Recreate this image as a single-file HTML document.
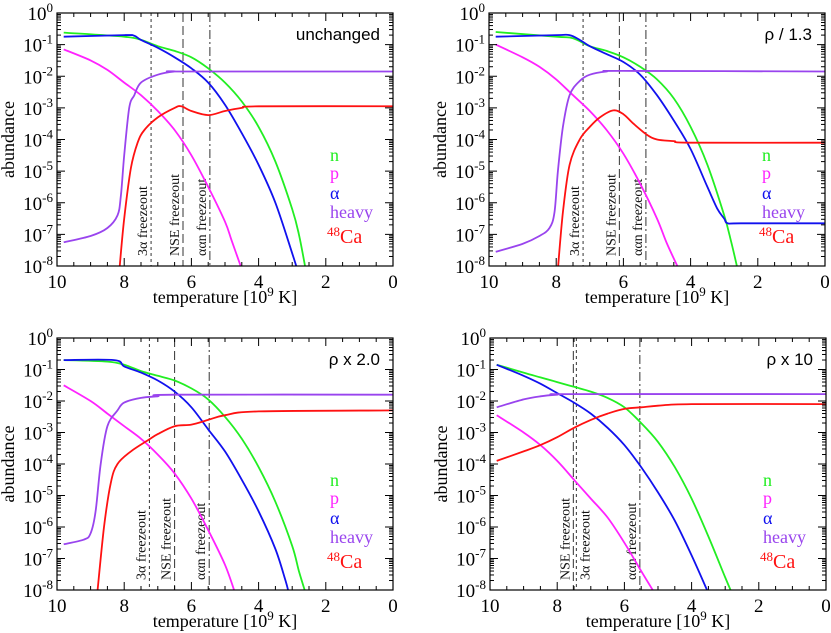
<!DOCTYPE html>
<html><head><meta charset="utf-8"><style>
body{margin:0;background:#fff}
svg{display:block;font-family:"Liberation Serif",serif}
</style></head><body>
<svg id="chart" width="831" height="633" viewBox="0 0 831 633" xmlns="http://www.w3.org/2000/svg"></svg>
<script>
const panelTitles=["unchanged","ρ / 1.3","ρ x 2.0","ρ x 10"];
const xTicks=[10,8,6,4,2,0];
const yTicks=[0,-1,-2,-3,-4,-5,-6,-7,-8];
const seriesNames=["n","p","α","heavy","48Ca"];
const seriesColors=["#22ee22","#ff22ff","#1111ee","#9944ee","#ff1111"];
// per panel: [n, p, alpha, heavy, Ca] each as [T, log10 abundance]
const tlN=[[9.8,-0.62],[8,-0.75],[7.5,-0.85],[7,-1.05],[6.5,-1.2],[6,-1.4],[5.5,-1.75],[5,-2.2],[4.5,-2.8],[4,-3.6],[3.5,-4.7],[3,-6.2],[2.8,-7],[2.6,-8.1]];
const tlP=[[9.8,-1.15],[9,-1.5],[8.5,-1.8],[8,-2.2],[7.5,-2.6],[7,-3.1],[6.5,-3.7],[6,-4.5],[5.5,-5.5],[5,-6.6],[4.8,-7.2],[4.5,-8.1]];
const tlA=[[9.8,-0.75],[8,-0.7],[7.7,-0.72],[7.5,-0.85],[7,-1.1],[6.5,-1.4],[6,-1.75],[5.5,-2.2],[5,-2.9],[4.5,-3.8],[4,-4.8],[3.5,-6],[3,-7.6],[2.85,-8.1]];
const tlH=[[9.8,-7.25],[9,-7.05],[8.5,-6.8],[8.2,-6.4],[8.1,-5.8],[8,-4.5],[7.85,-3],[7.7,-2.6],[7.5,-2.2],[7,-1.95],[6.5,-1.85],[6.2,-1.85],[0,-1.85]];
const tlC=[[8.15,-8.2],[8,-6.5],[7.8,-4.9],[7.6,-4.1],[7.4,-3.7],[7,-3.3],[6.5,-3],[6.3,-2.95],[6,-3.1],[5.5,-3.23],[5,-3.1],[4.5,-3],[4,-2.95],[0,-2.95]];
const trN=[[9.8,-0.6],[8,-0.75],[7.5,-0.8],[7,-1.05],[6.5,-1.2],[6,-1.4],[5.5,-1.7],[5,-2.1],[4.5,-2.7],[4,-3.6],[3.5,-4.8],[3,-6.4],[2.8,-7.2],[2.6,-8.1]];
const trP=[[9.8,-1.0],[9,-1.4],[8.5,-1.7],[8,-2.1],[7.5,-2.6],[7,-3.1],[6.5,-3.7],[6,-4.45],[5.5,-5.4],[5,-6.5],[4.7,-7.3],[4.35,-8.1]];
const trA=[[9.8,-0.75],[8,-0.7],[7.6,-0.7],[7.3,-0.85],[7,-1.05],[6.5,-1.3],[6,-1.55],[5.5,-1.95],[5,-2.6],[4.5,-3.4],[4,-4.3],[3.5,-5.5],[3.2,-6.2],[3,-6.5],[2.9,-6.65],[2.5,-6.65],[0,-6.65]];
const trH=[[9.8,-7.55],[9,-7.3],[8.5,-7.05],[8.2,-6.8],[8.05,-6.3],[7.95,-5],[7.8,-3.6],[7.6,-2.6],[7.3,-2.15],[7,-1.95],[6.5,-1.85],[6,-1.83],[0,-1.85]];
const trC=[[7.95,-8.1],[7.8,-6.3],[7.6,-4.8],[7.3,-4],[7,-3.6],[6.7,-3.3],[6.3,-3.08],[6,-3.2],[5.7,-3.5],[5.3,-3.85],[5,-4.0],[4.5,-4.05],[4,-4.1],[0,-4.1]];
const blN=[[9.8,-0.7],[8.5,-0.75],[8,-0.85],[7.5,-1.05],[7,-1.2],[6.5,-1.35],[6,-1.6],[5.5,-1.95],[5,-2.5],[4.5,-3.2],[4,-4.1],[3.5,-5.2],[3,-6.6],[2.8,-7.4],[2.6,-8.1]];
const blP=[[9.8,-1.5],[9,-2.0],[8.5,-2.4],[8,-2.8],[7.5,-3.2],[7,-3.7],[6.5,-4.3],[6,-5.1],[5.5,-6.1],[5,-7.2],[4.7,-8.1]];
const blA=[[9.8,-0.7],[8.3,-0.7],[8,-0.9],[7.5,-1.1],[7,-1.35],[6.5,-1.7],[6,-2.2],[5.5,-2.9],[5,-3.6],[4.5,-4.5],[4,-5.5],[3.5,-6.7],[3.2,-7.7],[3.1,-8.1]];
const blH=[[9.8,-6.55],[9.2,-6.4],[9,-6.2],[8.85,-5.5],[8.7,-4],[8.5,-2.8],[8.2,-2.3],[8,-2.05],[7.5,-1.9],[7,-1.85],[6.5,-1.8],[0,-1.8]];
const blC=[[8.8,-8.1],[8.6,-6],[8.4,-4.6],[8.2,-4.0],[7.8,-3.6],[7.3,-3.25],[7,-3.05],[6.5,-2.8],[6,-2.75],[5.5,-2.6],[5,-2.45],[4,-2.33],[0,-2.3]];
const brN=[[9.8,-0.85],[9,-1.1],[8.5,-1.25],[8,-1.4],[7.5,-1.55],[7,-1.7],[6.5,-1.9],[6,-2.2],[5.5,-2.7],[5,-3.3],[4.5,-4.1],[4,-5.1],[3.5,-6.3],[3,-7.6],[2.8,-8.1]];
const brP=[[9.8,-2.45],[9,-3.0],[8.5,-3.4],[8,-3.9],[7.5,-4.5],[7,-5.1],[6.5,-5.7],[6,-6.5],[5.5,-7.4],[5.1,-8.1]];
const brA=[[9.8,-0.85],[9,-1.2],[8.5,-1.45],[8,-1.75],[7.5,-2.05],[7,-2.4],[6.5,-2.85],[6,-3.4],[5.5,-4.1],[5,-4.9],[4.5,-5.8],[4,-6.9],[3.5,-8.1]];
const brH=[[9.8,-2.2],[9,-1.95],[8.5,-1.85],[8,-1.8],[7.5,-1.78],[0,-1.78]];
const brC=[[9.8,-3.9],[9,-3.6],[8.5,-3.4],[8,-3.15],[7.5,-2.85],[7,-2.6],[6.5,-2.4],[6,-2.25],[5.5,-2.2],[5,-2.15],[4,-2.1],[0,-2.1]];
// freezeout temperatures: [3α, NSE, ααn]
const freezeTemps=[[7.2,6.25,5.45],[7.2,6.12,5.33],[7.25,6.5,5.47],[7.43,7.52,5.54]];
const freezeLabels=["3α freezeout","NSE freezeout","ααn freezeout"];

const panelSeries=[[tlN,tlP,tlA,tlH,tlC],[trN,trP,trA,trH,trC],[blN,blP,blA,blH,blC],[brN,brP,brA,brH,brC]];
const boxes=[[57,13,393,266],[489,13,825,266],[57,338,393,590],[490,338,826,590]];
const svg=document.getElementById('chart');
const NS="http://www.w3.org/2000/svg";
function mk(tag,attrs,parent){const e=document.createElementNS(NS,tag);for(const k in attrs)e.setAttribute(k,attrs[k]);(parent||svg).appendChild(e);return e;}
function smooth(pts){
  let d='M'+pts[0][0].toFixed(1)+','+pts[0][1].toFixed(1);
  for(let i=0;i<pts.length-1;i++){
    const p0=pts[Math.max(0,i-1)],p1=pts[i],p2=pts[i+1],p3=pts[Math.min(pts.length-1,i+2)];
    const k=1/6;
    const c1=[p1[0]+(p2[0]-p0[0])*k,p1[1]+(p2[1]-p0[1])*k];
    const c2=[p2[0]-(p3[0]-p1[0])*k,p2[1]-(p3[1]-p1[1])*k];
    d+=`C${c1[0].toFixed(1)},${c1[1].toFixed(1)} ${c2[0].toFixed(1)},${c2[1].toFixed(1)} ${p2[0].toFixed(1)},${p2[1].toFixed(1)}`;
  }
  return d;
}

boxes.forEach((b,pi)=>{
  const [x0,y0,x1,y1]=b;
  const g=mk('g',{});
  
  
  const sx=t=>x0+(10-t)/10*(x1-x0);
  const sy=v=>y0+(0-v)/8*(y1-y0);
  const clip=mk('clipPath',{id:'c'+pi},g);
  mk('rect',{x:x0,y:y0,width:x1-x0,height:y1-y0},clip);
  const dashes=["3,3","9,4","9,3,2,3"];
  freezeTemps[pi].forEach((t,i)=>{
    const l=mk('line',{x1:sx(t),x2:sx(t),y1:y0,y2:y1,stroke:'#333','stroke-width':1,'stroke-dasharray':dashes[i]},g);
    
    
    let lx=sx(t)-4;
    if(pi===3&&i===0)lx=sx(t)+13;
    const tx=mk('text',{x:0,y:0,'font-size':14,fill:'#111',transform:`translate(${lx},${y1-10}) rotate(-90)`},g);
    tx.textContent=freezeLabels[i];
    
    
  });
  panelSeries[pi].forEach((s,si)=>{
    const d=smooth(s.map(p=>[sx(p[0]),sy(p[1])]));
    const pth=mk('path',{d:d,fill:'none',stroke:seriesColors[si],'stroke-width':1.8,'stroke-linejoin':'round','clip-path':`url(#c${pi})`},g);
    
    
  });
  const fr=mk('rect',{x:x0,y:y0,width:x1-x0,height:y1-y0,fill:'none',stroke:'#000','stroke-width':1.2},g);
  
  
  for(let t=0;t<=10;t+=0.5){
    const major=t%2===0;const len=major?8:4;
    mk('line',{x1:sx(t),x2:sx(t),y1:y1,y2:y1-len,stroke:'#000'},g);
    mk('line',{x1:sx(t),x2:sx(t),y1:y0,y2:y0+len,stroke:'#000'},g);
  }
  xTicks.forEach(t=>{
    const tx=mk('text',{x:sx(t),y:y1+22,'font-size':19,'text-anchor':'middle'},g);
    tx.textContent=t;
    
    
  });
  yTicks.forEach(v=>{
    mk('line',{x1:x0,x2:x0+8,y1:sy(v),y2:sy(v),stroke:'#000'},g);
    mk('line',{x1:x1,x2:x1-8,y1:sy(v),y2:sy(v),stroke:'#000'},g);
    if(v>-8){for(let m=2;m<10;m++){const yy=sy(v-1+Math.log10(m));
      mk('line',{x1:x0,x2:x0+4,y1:yy,y2:yy,stroke:'#000'},g);
      mk('line',{x1:x1,x2:x1-4,y1:yy,y2:yy,stroke:'#000'},g);}}
    const tx=mk('text',{x:x0-4,y:sy(v)+7,'font-size':19,'text-anchor':'end'},g);
    tx.innerHTML=`10<tspan dy="-8" font-size="13">${v}</tspan>`;
    
    
  });
  const xl=mk('text',{x:(x0+x1)/2,y:y1+37,'font-size':18,'text-anchor':'middle'},g);
  xl.innerHTML='temperature [10<tspan dy="-7" font-size="13">9</tspan><tspan dy="7"> K]</tspan>';
  
  
  const yl=mk('text',{x:0,y:0,'font-size':18,'text-anchor':'middle',transform:`translate(${x0-43},${(y0+y1)/2}) rotate(-90)`},g);
  yl.textContent='abundance';
  
  
  const ti=mk('text',{x:x1-13,y:y0+27,'font-size':17,'text-anchor':'end','font-family':'Liberation Sans, sans-serif'},g);
  ti.textContent=panelTitles[pi];
  
  
  const lx=x1-63, ly=[148,166,186,205,230];
  seriesNames.forEach((n,si)=>{
    const tx=mk('text',{x:lx,y:y0+ly[si],'font-size':si===4?20:18,fill:seriesColors[si]},g);
    if(si===4){tx.setAttribute('x',lx-3);tx.innerHTML='<tspan dy="-7" font-size="13">48</tspan><tspan dy="7">Ca</tspan>';}
    else tx.textContent=n;
    
    
  });
});
</script>
</body></html>
